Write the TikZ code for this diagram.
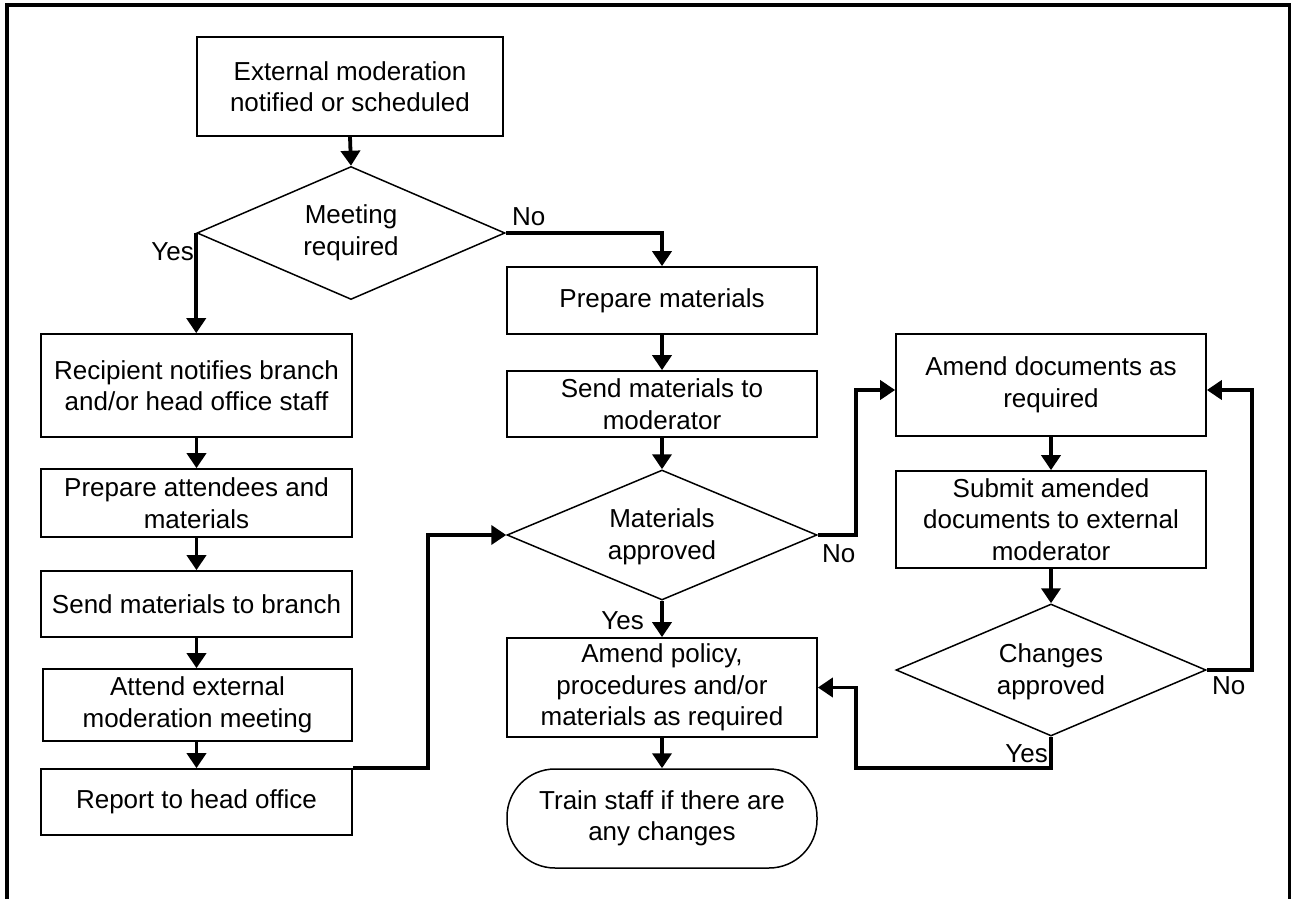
\documentclass[tikz,border=0pt]{standalone}
\usepackage{fontspec}
\setmainfont{Liberation Sans}
\usetikzlibrary{shapes.geometric,arrows.meta,calc}

\begin{document}
\begin{tikzpicture}[x=1pt,y=-1pt,
  font=\fontsize{26}{31.5}\selectfont,
  stepbox/.style={draw, line width=1.7pt, rectangle, inner sep=0pt, align=center,
                  minimum width=310pt},
  decision/.style={draw, line width=1.5pt, diamond, inner sep=0pt},
  dtext/.style={inner sep=0pt, align=center},
  terminal/.style={draw, line width=1.5pt, rectangle, rounded corners=48pt,
                   inner sep=0pt, align=center, minimum width=310pt},
  conn/.style={line width=3.8pt, -{Triangle[length=15pt,width=19pt]}},
  lbl/.style={inner sep=0pt}
]
\clip (0,0) rectangle (1291,899);
\fill[white] (0,0) rectangle (1291,899);

% open frame around the chart
\draw[line width=4pt] (6.5,910) -- (6.5,5) -- (1290,5) -- (1290,910);

% start
\node[stepbox, minimum width=306pt, minimum height=99pt] (start) at (350,86.5)
  {External moderation\\notified or scheduled};

% first decision
\node[decision, minimum width=308pt, minimum height=133pt] (meet) at (351,233) {};
\node[dtext] (meett) at (351,233) {Meeting\\required};

% left column
\node[stepbox, minimum width=311pt, minimum height=103pt] (recip) at (196.5,385.5)
  {Recipient notifies branch\\and/or head office staff};
\node[stepbox, minimum width=311pt, minimum height=68pt] (prepatt) at (196.5,503)
  {Prepare attendees and\\materials};
\node[stepbox, minimum width=311pt, minimum height=66pt] (sendbr) at (196.5,604)
  {Send materials to branch};
\node[stepbox, minimum width=309pt, minimum height=72pt] (attend) at (197.5,705)
  {Attend external\\moderation meeting};
\node[stepbox, minimum width=311pt, minimum height=66pt] (report) at (196.5,802)
  {Report to head office};

% middle column
\node[stepbox, minimum height=67pt] (prepmat) at (662,300.5) {Prepare materials};
\node[stepbox, minimum height=66pt] (sendmod) at (662,404)
  {Send materials to\\moderator};
\node[decision, minimum width=310pt, minimum height=130pt] (matap) at (662,535) {};
\node[dtext] (matapt) at (662,537) {Materials\\approved};
\node[stepbox, minimum height=99pt] (amendpol) at (662,687.5)
  {Amend policy,\\procedures and/or\\materials as required};
\node[terminal, minimum height=99pt] (train) at (662,818.5)
  {Train staff if there are\\any changes};

% right column
\node[stepbox, minimum height=102pt] (amenddoc) at (1051,385)
  {Amend documents as\\required};
\node[stepbox, minimum height=97pt] (submit) at (1051,519.5)
  {Submit amended\\documents to external\\moderator};
\node[decision, minimum width=310pt, minimum height=132pt] (chgap) at (1051,670) {};
\node[dtext] (chgapt) at (1051,672) {Changes\\approved};

% branch labels
\node[lbl, anchor=east] (yes1) at (194,252) {Yes};
\node[lbl, anchor=west] (no1) at (512,217) {No};
\node[lbl, anchor=west] (no2) at (822,554) {No};
\node[lbl, anchor=east] (yes2) at (644,621) {Yes};
\node[lbl, anchor=west] (no3) at (1212,686) {No};
\node[lbl, anchor=east] (yes3) at (1048,754) {Yes};

% helper points for the routed connectors
\coordinate (rbend) at (428,535);
\coordinate (mbend) at (856,535);
\coordinate (rrbend) at (1252,670);
\coordinate (ybend) at (856,768);

% connectors
\draw[conn] (start.south) -- (meet.north);
\draw[conn] (meet.west) -- (meet.west |- recip.north);
\draw[conn] (meet.east) -| (prepmat.north);
\draw[conn] (recip.south) -- (prepatt.north);
\draw[conn] (prepatt.south) -- (sendbr.north);
\draw[conn] (sendbr.south) -- (sendbr.south |- attend.north);
\draw[conn] (attend.south -| sendbr.south) -- (report.north);
\draw[conn] (report.north east) -| (rbend) -- (matap.west);
\draw[conn] (prepmat.south) -- (sendmod.north);
\draw[conn] (sendmod.south) -- (matap.north);
\draw[conn] (matap.south) -- (amendpol.north);
\draw[conn] (amendpol.south) -- (train.north);
\draw[conn] (matap.east) -- (mbend) |- ([yshift=-5pt]amenddoc.west);
\draw[conn] (amenddoc.south) -- (submit.north);
\draw[conn] (submit.south) -- (chgap.north);
\draw[conn] (chgap.east) -- (rrbend) |- ([yshift=-5pt]amenddoc.east);
\draw[conn] (chgap.south) |- (ybend) |- (amendpol.east);
\end{tikzpicture}
\end{document}
